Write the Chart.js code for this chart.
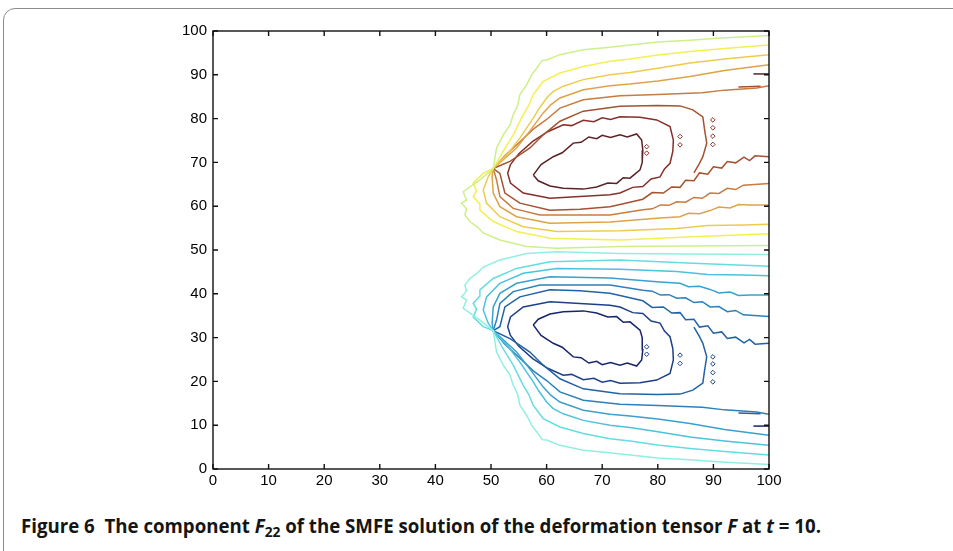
<!DOCTYPE html>
<html>
<head>
<meta charset="utf-8">
<script src="https://cdn.jsdelivr.net/npm/chart.js@4.4.1/dist/chart.umd.min.js"></script>
<style>
html, body { margin: 0; padding: 0; background: #fff; }
#wrap { position: relative; width: 953px; height: 551px; overflow: hidden; background: #fff; }
#frame { position: absolute; left: 3px; top: 8px; width: 1000px; height: 600px; border: 1.5px solid #8c8c8c; border-radius: 12px; }
#chart { position: absolute; left: 0; top: 0; }
#caption { position: absolute; left: 21px; top: 513px; font-family: "Open Sans", "Noto Sans", sans-serif; font-weight: bold; font-size: 19px; white-space: nowrap; color: #151515; transform-origin: 0 0; }
#caption sub { font-size: 14px; vertical-align: -4px; line-height: 0; }
</style>
</head>
<body>
<div id="wrap">
  <div id="frame"></div>
  <canvas id="chart" width="953" height="500"></canvas>
  <div id="caption">Figure 6&nbsp; The component <i>F</i><sub>22</sub> of the SMFE solution of the deformation tensor <i>F</i> at <i>t</i> = 10.</div>
</div>
<script>
// contour lines as [x, y] pairs
// upper half (positive levels, yellow -> dark red)
const yel1 = [[100,99.0],[94,98.6],[90,98.3],[85.8,97.9],[80,97.5],[75,96.8],[71.4,96.3],[66.6,95.7],[62.4,94.6],[60,93.4],[59.2,93.3],[58.2,91.5],[57.3,90],[56.4,87.7],[55.2,85.5],[54.8,83],[54,80.9],[53.4,78.5],[52.2,76.3],[51,73.3],[50.4,68.6],
  [48,66],[45,63.3],[45.6,61.4],[44.7,60.7],[45.6,59.4],[45.3,58],[46.2,56.5],[47.5,55.3],[48.6,53.9],[51.6,52.3],[56.4,50.8],[61.8,50.4],[73.2,50.8],[85,50.9],[100,51]];
const yel2 = [[100,96.8],[92,96],[85.8,95.3],[80,94.5],[75,93.6],[71.4,93.1],[66.6,91.9],[62.4,90.4],[59.4,88.5],[58.4,86.8],[57.6,85.5],[56.8,83],[55.8,80.9],[54,76.3],[52.2,72.6],[50.4,68.6],
  [48.6,67.5],[46.8,65.3],[47.4,63.5],[46.8,62.2],[48,60.5],[48,59.1],[50.4,56.5],[54.6,54.2],[60.6,52.7],[73.2,52.3],[86.3,53],[100,53.7]];
const yel3 = [[100,94.6],[92,93.6],[85.8,92.7],[80,91.5],[75,90.5],[71.4,90],[66.6,88.9],[63,87.4],[61.2,86.2],[60,84.7],[58.6,82.2],[57.6,80.1],[55.2,75.6],[53.1,72.1],[50.4,68.6],
  [49.5,66.7],[48.6,63.7],[49.2,60.7],[51.6,57.6],[55.8,55.3],[61.8,54.2],[73.2,54.4],[83.4,54.9],[89,55.6],[95.4,55.7],[100,55.9]];
const yel4 = [[100,92.3],[92,91],[85.8,89.6],[80,88.6],[75,87.9],[71.4,87.5],[66.6,86.6],[62.4,84.7],[60.8,83.2],[59.4,81.3],[57,77.2],[54.6,73.3],[50.4,68.6],
  [50.2,66.7],[50.4,63],[51.6,59.9],[54.6,57.6],[60.6,56.1],[71.4,56.4],[80.4,57.3],[84,57.6],[85.5,58.4],[87.5,58.3],[89.4,59],[91,59.8],[93,59.6],[94.5,60.4],[96.6,60.3],[100,60.3]];
const yel5 = [[100,87.5],[97.8,87],[92,86.5],[88,85.9],[80,85.5],[73.2,85.2],[66.6,84.3],[62.4,82.4],[60,79.8],[57.6,77.6],[55.2,74.7],[52.5,71.5],[50.4,68.6],
  [51,66],[51.6,62.2],[54,59.5],[58.8,58],[71.4,58],[77.3,59.2],[79,59.4],[80.5,60.3],[82,60.2],[83.4,61],[85,60.9],[86.5,62],[88,61.8],[89.4,63],[91,62.9],[92.5,64.1],[94,63.8],[95.4,64.8],[100,65.2]];
const yel6 = [[100,71.3],[97.5,71.5],[96.5,70.4],[95.5,71.2],[94,69.9],[92.5,70.2],[91.5,68.7],[90,69],[89,67.3],[87.5,67.6],[86.5,65.8],[85,65.9],[84,64.3],[82.5,64.4],[81,63],[79,63.1],[77.3,61.6],[73.2,60.4],[71.4,59.9],[66,59.3],[60.6,59.1],[55.2,60.7],[52.5,63],[51.6,67.5],[50.4,68.6],
  [53.5,70.3],[57,73.3],[59.4,76.3],[62.4,79.4],[66.6,81.7],[73.2,82.8],[80,83],[84,82.9],[86.3,82],[88.1,80.4],[88.4,77.6],[88.8,74.4],[88.1,71.3],[87.5,69.8],[86.5,67.6]];
const yel7 = [[53.5,69.5],[55,72],[57.5,74.8],[60.2,77],[63,78.6],[64.5,78.4],[66.6,79.6],[68.5,79.3],[70,80.2],[71.5,79.8],[73.2,80.4],[76.8,80.3],[79.8,79.7],[82.2,78.2],[82.8,75.1],[82.7,72.5],[82.2,69.8],[81.2,68.5],[80.4,66.7],[78.8,66.2],[77.3,64.5],[75.5,64.3],[73.2,63],[71.4,62.6],[66,62.2],[60.6,61.8],[55.8,63],[53.5,65.3],[53,67.5],[53.5,69.5]];
const yel8 = [[57.6,67.1],[59,69.5],[61.2,71.3],[62.8,72.2],[64.8,74.4],[66.2,74.6],[67.6,75.8],[69,75.4],[70,76.2],[71.5,75.7],[73.2,76.3],[74.5,75.8],[76.2,76.5],[77.1,75.1],[77.3,72.8],[77.2,70],[76.8,68.3],[75,66.4],[73.8,66.5],[72.6,65.2],[71,65.3],[69,64.4],[66.6,63.9],[63,64.1],[60.6,64.6],[58.5,65.8],[57.6,67.1]];

// lower half (negative levels, cyan -> dark blue)
const blu1 = [[100,1.0],[94,1.4],[90,1.7],[85.8,2.1],[80,2.5],[75,3.2],[71.4,3.7],[66.6,4.3],[62.4,5.4],[60,6.6],[59.2,6.7],[58.2,8.5],[57.3,10],[56.4,12.3],[55.2,14.5],[54.8,17],[54,19.1],[53.4,21.5],[52.2,23.7],[51,26.7],[50.4,31.6],
  [48,34],[45,36.7],[45.6,38.6],[44.7,39.3],[45.6,40.6],[45.3,42],[46.2,43.5],[47.5,44.7],[48.6,46.1],[51.6,47.7],[56.4,49.2],[61.8,49.6],[73.2,49.2],[85,49.1],[100,49]];
const blu2 = [[100,3.2],[92,4],[85.8,4.7],[80,5.5],[75,6.4],[71.4,6.9],[66.6,8.1],[62.4,9.6],[59.4,11.5],[58.4,13.2],[57.6,14.5],[56.8,17],[55.8,19.1],[54,23.7],[52.2,27.4],[50.4,31.6],
  [48.6,32.5],[46.8,34.7],[47.4,36.5],[46.8,37.8],[48,39.5],[48,40.9],[50.4,43.5],[54.6,45.8],[60.6,47.3],[73.2,47.7],[86.3,47],[100,46.3]];
const blu3 = [[100,5.4],[92,6.4],[85.8,7.3],[80,8.5],[75,9.5],[71.4,10],[66.6,11.1],[63,12.6],[61.2,13.8],[60,15.3],[58.6,17.8],[57.6,19.9],[55.2,24.4],[53.1,27.9],[50.4,31.6],
  [49.5,33.3],[48.6,36.3],[49.2,39.3],[51.6,42.4],[55.8,44.7],[61.8,45.8],[73.2,45.6],[83.4,45.1],[89,44.4],[95.4,44.3],[100,44.1]];
const blu4 = [[100,7.7],[92,9],[85.8,10.4],[80,11.4],[75,12.1],[71.4,12.5],[66.6,13.4],[62.4,15.3],[60.8,16.8],[59.4,18.7],[57,22.8],[54.6,26.7],[50.4,31.6],
  [50.2,33.3],[50.4,37],[51.6,40.1],[54.6,42.4],[60.6,43.9],[71.4,43.6],[80.4,42.7],[84,42.4],[85.5,41.6],[87.5,41.7],[89.4,41],[91,40.2],[93,40.4],[94.5,39.6],[96.6,39.7],[100,39.7]];
const blu5 = [[100,12.5],[97.8,13],[92,13.5],[88,14.1],[80,14.5],[73.2,14.8],[66.6,15.7],[62.4,17.6],[60,20.2],[57.6,22.4],[55.2,25.3],[52.5,28.5],[50.4,31.6],
  [51,34],[51.6,37.8],[54,40.5],[58.8,42],[71.4,42],[77.3,40.8],[79,40.6],[80.5,39.7],[82,39.8],[83.4,39],[85,39.1],[86.5,38],[88,38.2],[89.4,37],[91,37.1],[92.5,35.9],[94,36.2],[95.4,35.2],[100,34.8]];
const blu6 = [[100,28.7],[97.5,28.5],[96.5,29.6],[95.5,28.8],[94,30.1],[92.5,29.8],[91.5,31.3],[90,31],[89,32.7],[87.5,32.4],[86.5,34.2],[85,34.1],[84,35.7],[82.5,35.6],[81,37],[79,36.9],[77.3,38.4],[73.2,39.6],[71.4,40.1],[66,40.7],[60.6,40.9],[55.2,39.3],[52.5,37],[51.6,32.5],[50.4,31.6],
  [53.5,29.7],[57,26.7],[59.4,23.7],[62.4,20.6],[66.6,18.3],[73.2,17.2],[80,17],[84,17.1],[86.3,18],[88.1,19.6],[88.4,22.4],[88.8,25.6],[88.1,28.7],[87.5,30.2],[86.5,32.4]];
const blu7 = [[53.5,30.5],[55,28],[57.5,25.2],[60.2,23],[63,21.4],[64.5,21.6],[66.6,20.4],[68.5,20.7],[70,19.8],[71.5,20.2],[73.2,19.6],[76.8,19.7],[79.8,20.3],[82.2,21.8],[82.8,24.9],[82.7,27.5],[82.2,30.2],[81.2,31.5],[80.4,33.3],[78.8,33.8],[77.3,35.5],[75.5,35.7],[73.2,37],[71.4,37.4],[66,37.8],[60.6,38.2],[55.8,37],[53.5,34.7],[53,32.5],[53.5,30.5]];
const blu8 = [[57.6,32.9],[59,30.5],[61.2,28.7],[62.8,27.8],[64.8,25.6],[66.2,25.4],[67.6,24.2],[69,24.6],[70,23.8],[71.5,24.3],[73.2,23.7],[74.5,24.2],[76.2,23.5],[77.1,24.9],[77.3,27.2],[77.2,30],[76.8,31.7],[75,33.6],[73.8,33.5],[72.6,34.8],[71,34.7],[69,35.6],[66.6,36.1],[63,35.9],[60.6,35.4],[58.5,34.2],[57.6,32.9]];

// small isolated bits near the right side
const yelDots = [[78,73.6],[78,72.1],[84,75.9],[84,74],[89.9,79.7],[89.9,77.9],[89.9,76],[89.9,74.1]];
const bluDots = [[78,27.9],[78,26.2],[84,26],[84,24.1],[89.9,25.6],[89.9,24],[89.9,22],[89.9,19.9]];
const yelStubA = [[97.2,90.2],[100,90.2]];
const yelStubB = [[94.5,87.2],[98.5,87.4]];
const bluStubA = [[97.2,9.8],[100,9.8]];
const bluStubB = [[94.5,12.8],[98.5,12.6]];

const yelColors = ['#cdf08a', '#f4ef52', '#eecb4c', '#dea34a', '#c67c42', '#a4522f', '#86302b', '#5a2326'];
const bluColors = ['#8ff0e2', '#62dde2', '#4cc2dc', '#3aa0cf', '#2b80bd', '#2363a4', '#1d4186', '#17256a'];

const yelLines = [yel1, yel2, yel3, yel4, yel5, yel6, yel7, yel8];
const bluLines = [blu1, blu2, blu3, blu4, blu5, blu6, blu7, blu8];

const toPts = arr => arr.map(p => ({ x: p[0], y: p[1] }));

const datasets = [];
yelLines.forEach((l, i) => datasets.push({ data: toPts(l), borderColor: yelColors[i] }));
bluLines.forEach((l, i) => datasets.push({ data: toPts(l), borderColor: bluColors[i] }));
datasets.push({ data: toPts(yelStubA), borderColor: '#5a2326' });
datasets.push({ data: toPts(yelStubB), borderColor: '#a4522f' });
datasets.push({ data: toPts(bluStubA), borderColor: '#17256a' });
datasets.push({ data: toPts(bluStubB), borderColor: '#2363a4' });
datasets.forEach(d => {
    d.showLine = true;
    d.pointRadius = 0;
    d.borderWidth = 1.5;
    d.tension = 0;
});
datasets.push({ data: toPts(yelDots), showLine: false, pointStyle: 'rectRot', pointRadius: 2.3, borderWidth: 1, pointBorderColor: '#86302b', pointBackgroundColor: 'rgba(0,0,0,0)' });
datasets.push({ data: toPts(bluDots), showLine: false, pointStyle: 'rectRot', pointRadius: 2.3, borderWidth: 1, pointBorderColor: '#1d4186', pointBackgroundColor: 'rgba(0,0,0,0)' });

// box round the plot with inward ticks on all four sides
const boxTicks = {
    id: 'boxTicks',
    afterDraw(chart) {
        const { ctx, chartArea: a, scales: { x, y } } = chart;
        ctx.save();
        ctx.strokeStyle = '#111';
        ctx.lineWidth = 1.4;
        ctx.strokeRect(a.left, a.top, a.right - a.left, a.bottom - a.top);
        ctx.beginPath();
        x.ticks.forEach(t => {
            const px = x.getPixelForValue(t.value);
            ctx.moveTo(px, a.bottom); ctx.lineTo(px, a.bottom - 5);
            ctx.moveTo(px, a.top); ctx.lineTo(px, a.top + 5);
        });
        y.ticks.forEach(t => {
            const py = y.getPixelForValue(t.value);
            ctx.moveTo(a.left, py); ctx.lineTo(a.left + 5, py);
            ctx.moveTo(a.right, py); ctx.lineTo(a.right - 5, py);
        });
        ctx.stroke();
        ctx.restore();
    }
};

const tickFont = { family: 'Liberation Sans', size: 15 };

new Chart(document.getElementById('chart'), {
    type: 'scatter',
    data: { datasets },
    options: {
        responsive: false,
        animation: false,
        layout: { padding: { top: 31, right: 184, left: 0, bottom: 0 } },
        plugins: { legend: { display: false }, tooltip: { enabled: false } },
        scales: {
            x: {
                type: 'linear', min: 0, max: 100,
                ticks: { stepSize: 10, color: '#000', font: tickFont, padding: 3, maxRotation: 0 },
                grid: { display: false, drawTicks: false },
                border: { display: false },
                afterFit: s => { s.height = 31; }
            },
            y: {
                type: 'linear', min: 0, max: 100,
                ticks: { stepSize: 10, color: '#000', font: tickFont, padding: 6 },
                grid: { display: false, drawTicks: false },
                border: { display: false },
                afterFit: s => { s.width = 213; }
            }
        }
    },
    plugins: [boxTicks]
});

// stretch the caption to the width it has in the figure
const cap = document.getElementById('caption');
cap.style.transform = 'scaleX(' + (800 / cap.getBoundingClientRect().width) + ')';
</script>
</body>
</html>
